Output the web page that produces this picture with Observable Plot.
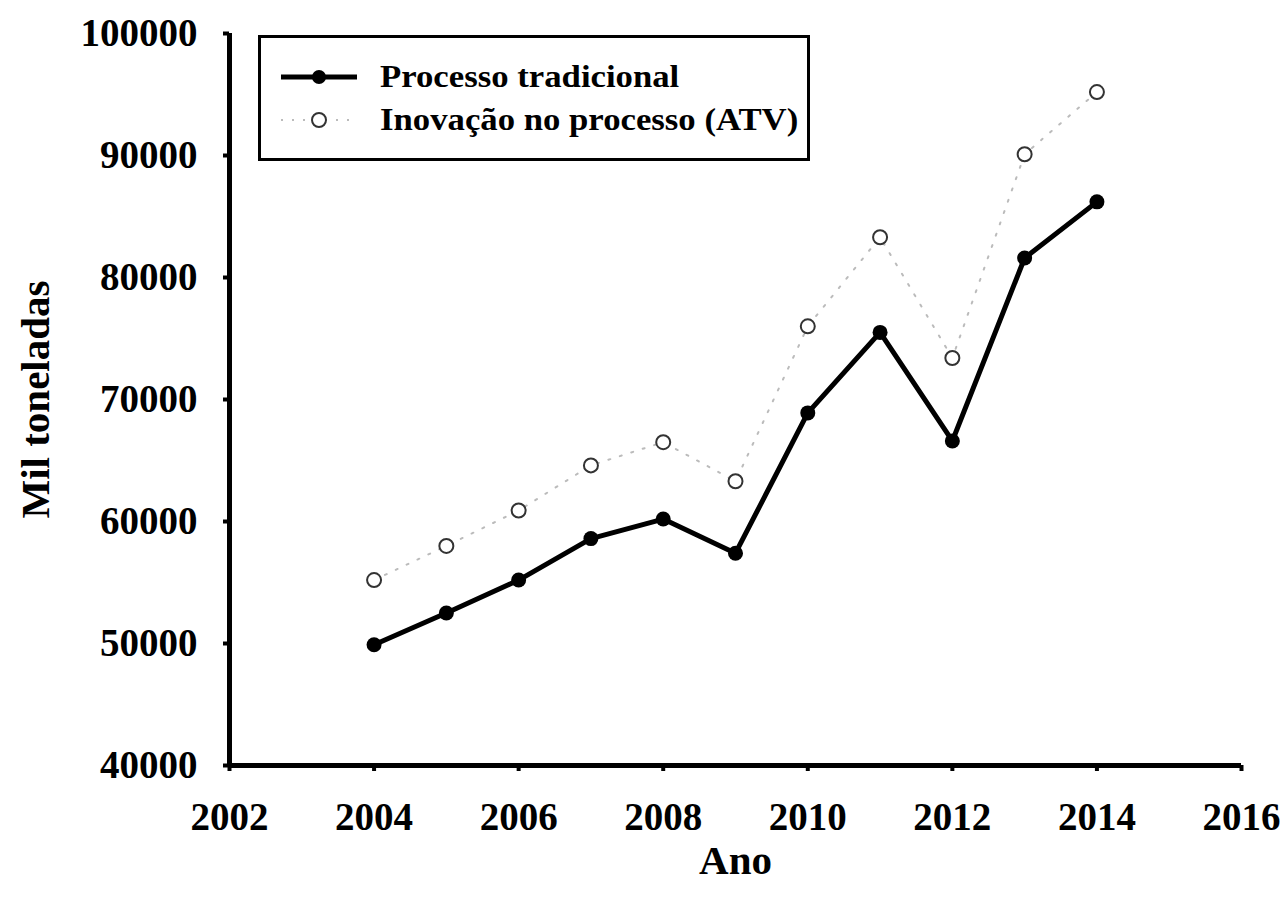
<!DOCTYPE html>
<html>
<head>
<meta charset="utf-8">
<script src="https://cdn.jsdelivr.net/npm/d3@7"></script>
<script src="https://cdn.jsdelivr.net/npm/@observablehq/plot@0.6"></script>
<style>
  html, body { margin: 0; padding: 0; background: #fff; }
  #wrap { position: relative; width: 1284px; height: 904px; font-family: "Liberation Serif", "Times New Roman", serif; }
  #legend { position: absolute; left: 258px; top: 35px; width: 546px; height: 120px; border: 3px solid #000; background: #fff; font-weight: bold; font-size: 31px; }
  .row { position: absolute; left: 0; height: 40px; display: flex; align-items: center; white-space: nowrap; }
  .row svg { margin-left: 18px; margin-right: 21px; }
  .row span { display: inline-block; transform: scaleX(1.12); transform-origin: left center; }
</style>
</head>
<body>
<div id="wrap">
  <div id="chart"></div>
  <div id="legend">
    <div class="row" style="top:19px"><svg width="80" height="20"><line x1="2" x2="78" y1="10" y2="10" stroke="#000" stroke-width="5"/><circle cx="40" cy="10" r="7" fill="#000"/></svg><span>Processo tradicional</span></div>
    <div class="row" style="top:62px"><svg width="80" height="20"><line x1="2" x2="78" y1="10" y2="10" stroke="#bbb" stroke-width="2" stroke-dasharray="2,9"/><circle cx="40" cy="10" r="7" fill="#fff" stroke="#333" stroke-width="2"/></svg><span>Inovação no processo (ATV)</span></div>
  </div>
</div>
<script>
const years = [2004, 2005, 2006, 2007, 2008, 2009, 2010, 2011, 2012, 2013, 2014];
const tradicional = [49900, 52500, 55200, 58600, 60200, 57400, 68900, 75500, 66600, 81600, 86200];
const inovacao = [55200, 58000, 60900, 64600, 66500, 63300, 76000, 83300, 73400, 90100, 95200];
const xTicks = [2002, 2004, 2006, 2008, 2010, 2012, 2014, 2016];
const yTicks = [40000, 50000, 60000, 70000, 80000, 90000, 100000];
const seriesNames = ["Processo tradicional", "Inovação no processo (ATV)"];

const dataT = years.map((y, i) => ({ano: y, valor: tradicional[i], serie: seriesNames[0]}));
const dataI = years.map((y, i) => ({ano: y, valor: inovacao[i], serie: seriesNames[1]}));

const font = {fontFamily: "Liberation Serif", fontWeight: "bold"};

const chart = Plot.plot({
  width: 1284,
  height: 904,
  marginLeft: 229,
  marginRight: 43,
  marginTop: 33,
  marginBottom: 139,
  style: {fontFamily: "Liberation Serif", background: "#fff"},
  x: {domain: [2002, 2016]},
  y: {domain: [40000, 100000]},
  marks: [
    Plot.axisX({ticks: xTicks, tickFormat: d => String(d), tickSize: 6, strokeWidth: 4, tickPadding: 31, fontSize: 39, ...font, label: null}),
    Plot.axisY({ticks: yTicks, tickFormat: d => String(d), tickSize: 6, strokeWidth: 4, tickPadding: 26, fontSize: 39, ...font, label: null}),
    Plot.ruleX([2002], {strokeWidth: 5}),
    Plot.ruleY([40000], {strokeWidth: 5}),
    Plot.line(dataI, {x: "ano", y: "valor", stroke: "#bbb", strokeWidth: 2, strokeDasharray: "2,10"}),
    Plot.dot(dataI, {x: "ano", y: "valor", r: 7, fill: "#fff", stroke: "#333", strokeWidth: 2}),
    Plot.line(dataT, {x: "ano", y: "valor", stroke: "#000", strokeWidth: 5}),
    Plot.dot(dataT, {x: "ano", y: "valor", r: 7.5, fill: "#000"}),
    Plot.text(["Mil toneladas"], {frameAnchor: "left", dx: -194, rotate: -90, textAnchor: "middle", fontSize: 41, ...font}),
    Plot.text(["Ano"], {frameAnchor: "bottom", dy: 108, fontSize: 41, ...font})
  ]
});
document.getElementById("chart").appendChild(chart);
</script>
</body>
</html>
